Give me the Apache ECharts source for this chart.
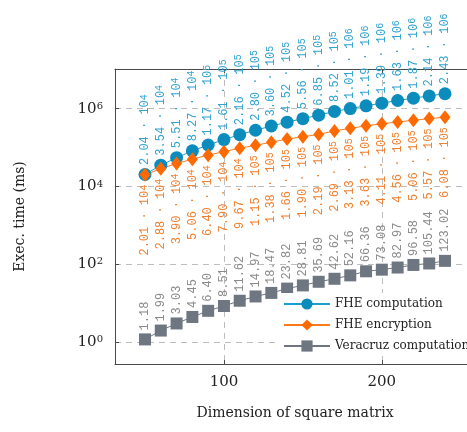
<!DOCTYPE html>
<html>
<head>
<meta charset="utf-8">
<script src="https://cdn.jsdelivr.net/npm/echarts@6/dist/echarts.min.js"></script>
<style>
  html, body { margin: 0; padding: 0; background: #fff; }
  #chart { width: 467px; height: 432px; }
</style>
</head>
<body>
<div id="chart"></div>
<script>
// matrix dimension (x)
const dims = [50, 60, 70, 80, 90, 100, 110, 120, 130, 140, 150, 160, 170, 180, 190, 200, 210, 220, 230, 240]
// exec. time in ms
const fheComp = [2.04e4, 3.54e4, 5.51e4, 8.27e4, 1.17e5, 1.61e5, 2.16e5, 2.80e5, 3.60e5, 4.52e5,
  5.56e5, 6.85e5, 8.52e5, 1.01e6, 1.19e6, 1.39e6, 1.63e6, 1.87e6, 2.14e6, 2.43e6]
const fheEnc = [2.01e4, 2.88e4, 3.90e4, 5.06e4, 6.40e4, 7.90e4, 9.67e4, 1.15e5, 1.38e5, 1.66e5,
  1.90e5, 2.19e5, 2.69e5, 3.13e5, 3.63e5, 4.11e5, 4.56e5, 5.06e5, 5.57e5, 6.08e5]
const veracruz = [1.18, 1.99, 3.03, 4.45, 6.40, 8.51, 11.62, 14.97, 18.47, 23.82,
  28.81, 35.69, 42.62, 52.16, 66.36, 73.08, 82.97, 96.58, 105.44, 123.02]
const xTicks = [100, 200]
const yTicks = [1, 1e2, 1e4, 1e6]

const serif = 'DejaVu Serif'
const mono = 'Liberation Mono'
const axisColor = '#4a4a4a'

const pairs = arr => arr.map((v, i) => [dims[i], v])

function sciLabel(p) {
  const v = p.value[1]
  const e = Math.floor(Math.log10(v))
  const m = (v / Math.pow(10, e)).toFixed(2)
  return m + ' · 10{s|' + e + '}'
}

function dataLabel(color, pos, fmt) {
  return {
    show: true,
    position: pos,
    rotate: 90,
    align: pos === 'top' ? 'left' : 'right',
    verticalAlign: 'middle',
    distance: 3,
    color: color,
    fontFamily: mono,
    fontSize: 12,
    formatter: fmt,
    rich: {
      s: { fontFamily: mono, fontSize: 10, color: color, verticalAlign: 'top', lineHeight: 9 }
    }
  }
}

const chart = echarts.init(document.getElementById('chart'))
chart.setOption({
  animation: false,
  grid: {
    left: 115, top: 69, width: 360, height: 295,
    outerBoundsMode: 'none',
    containLabel: false
  },
  legend: {
    orient: 'vertical',
    left: 278, top: 293,
    padding: [5, 20, 4, 5],
    backgroundColor: '#fff',
    itemWidth: 46, itemHeight: 14, itemGap: 9,
    textStyle: { fontFamily: serif, fontSize: 12, color: '#222' },
    data: ['FHE computation', 'FHE encryption', 'Veracruz computation']
  },
  xAxis: [
    {
      type: 'value',
      min: 31, max: 259,
      name: 'Dimension of square matrix',
      nameLocation: 'middle',
      nameGap: 42,
      nameTextStyle: { fontFamily: serif, fontSize: 14, color: '#222' },
      axisLine: { lineStyle: { color: axisColor } },
      axisTick: { inside: true, length: 4, customValues: xTicks, lineStyle: { color: axisColor } },
      axisLabel: { customValues: xTicks, fontFamily: serif, fontSize: 15, color: '#222', margin: 11 },
      splitLine: { show: true, lineStyle: { color: '#bdbdbd', type: [6, 5] } }
    },
    {
      // top frame line
      type: 'value',
      position: 'top',
      min: 31, max: 259,
      axisLine: { show: true, onZero: false, lineStyle: { color: axisColor } },
      axisTick: { inside: true, length: 4, customValues: xTicks, lineStyle: { color: axisColor } },
      axisLabel: { show: false },
      splitLine: { show: false }
    }
  ],
  yAxis: {
    type: 'log',
    min: 0.275, max: 1.05e7,
    name: 'Exec. time (ms)',
    nameLocation: 'middle',
    nameGap: 88,
    nameTextStyle: { fontFamily: serif, fontSize: 14, color: '#222' },
    axisLine: { lineStyle: { color: axisColor } },
    axisTick: { inside: true, length: 4, customValues: yTicks, lineStyle: { color: axisColor } },
    axisLabel: {
      customValues: yTicks,
      margin: 12,
      formatter: v => '{b|10}{e|' + Math.round(Math.log10(v)) + '}',
      rich: {
        b: { fontFamily: serif, fontSize: 15, color: '#222' },
        e: { fontFamily: serif, fontSize: 10, color: '#222', verticalAlign: 'top', lineHeight: 10 }
      }
    },
    splitLine: { show: true, lineStyle: { color: '#bdbdbd', type: [6, 5] } }
  },
  series: [
    {
      name: 'FHE computation',
      type: 'line',
      data: pairs(fheComp),
      symbol: 'circle',
      symbolSize: 13,
      lineStyle: { width: 1, color: '#1a9fd0' },
      itemStyle: { color: '#0b8cbc' },
      label: dataLabel('#33a3cf', 'top', sciLabel),
      z: 3
    },
    {
      name: 'FHE encryption',
      type: 'line',
      data: pairs(fheEnc),
      symbol: 'diamond',
      symbolSize: [11, 14],
      lineStyle: { width: 1, color: '#ff7a1a' },
      itemStyle: { color: '#ff6a00' },
      label: dataLabel('#f07f2e', 'bottom', sciLabel),
      z: 3
    },
    {
      name: 'Veracruz computation',
      type: 'line',
      data: pairs(veracruz),
      symbol: 'rect',
      symbolSize: 12,
      lineStyle: { width: 1, color: '#6e7781' },
      itemStyle: { color: '#6e7781' },
      label: dataLabel('#8a8a8a', 'top', p => p.value[1].toFixed(2)),
      z: 2
    }
  ]
})
</script>
</body>
</html>
